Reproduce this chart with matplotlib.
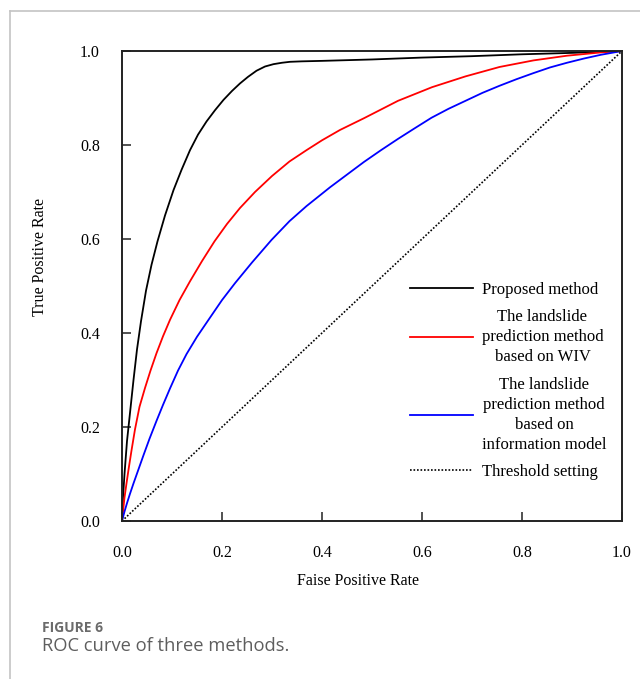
import matplotlib
matplotlib.use("Agg")
import matplotlib.pyplot as plt
from matplotlib.lines import Line2D

# values
proposed_fpr = [0.0, 0.002, 0.005, 0.010, 0.016, 0.023, 0.030, 0.038, 0.048, 0.059,
                0.071, 0.086, 0.103, 0.119, 0.136, 0.152, 0.169, 0.186, 0.203, 0.220,
                0.236, 0.252, 0.269, 0.286, 0.303, 0.320, 0.336, 0.360, 0.400, 0.500,
                0.600, 0.700, 0.800, 0.900, 1.0]
proposed_tpr = [0.0, 0.05, 0.10, 0.17, 0.23, 0.30, 0.365, 0.425, 0.49, 0.545,
                0.595, 0.65, 0.704, 0.747, 0.789, 0.822, 0.85, 0.874, 0.896, 0.915,
                0.931, 0.945, 0.958, 0.967, 0.972, 0.975, 0.977, 0.978, 0.979, 0.982,
                0.986, 0.989, 0.993, 0.996, 1.0]

wiv_fpr = [0.0, 0.002, 0.005, 0.009, 0.013, 0.019, 0.026, 0.035, 0.046, 0.057,
           0.069, 0.082, 0.096, 0.115, 0.136, 0.160, 0.185, 0.210, 0.236, 0.266,
           0.300, 0.335, 0.369, 0.400, 0.436, 0.484, 0.552, 0.620, 0.687, 0.755,
           0.823, 0.890, 0.958, 1.0]
wiv_tpr = [0.0, 0.02, 0.05, 0.08, 0.109, 0.15, 0.195, 0.243, 0.283, 0.32,
           0.357, 0.393, 0.428, 0.47, 0.51, 0.553, 0.595, 0.632, 0.666, 0.70,
           0.734, 0.765, 0.789, 0.81, 0.832, 0.857, 0.894, 0.923, 0.946, 0.966,
           0.98, 0.99, 0.997, 1.0]

info_fpr = [0.0, 0.005, 0.010, 0.016, 0.023, 0.032, 0.043, 0.055, 0.069, 0.082,
            0.096, 0.112, 0.129, 0.150, 0.173, 0.200, 0.226, 0.260, 0.299, 0.335,
            0.369, 0.416, 0.450, 0.484, 0.518, 0.552, 0.586, 0.619, 0.653, 0.687,
            0.721, 0.755, 0.789, 0.823, 0.856, 0.890, 0.924, 0.958, 1.0]
info_tpr = [0.0, 0.02, 0.038, 0.058, 0.08, 0.107, 0.14, 0.175, 0.213, 0.247,
            0.282, 0.32, 0.355, 0.392, 0.428, 0.47, 0.506, 0.55, 0.598, 0.638,
            0.67, 0.71, 0.737, 0.764, 0.789, 0.813, 0.836, 0.858, 0.877, 0.894,
            0.911, 0.926, 0.94, 0.953, 0.965, 0.975, 0.984, 0.992, 1.0]

threshold_fpr = [0.0, 1.0]
threshold_tpr = [0.0, 1.0]

labels = [
    "Proposed method",
    "The landslide\nprediction method\nbased on WIV",
    "The landslide\nprediction method\nbased on\ninformation model",
    "Threshold setting",
]
ticks = [0.0, 0.2, 0.4, 0.6, 0.8, 1.0]

serif = "Liberation Serif"

fig = plt.figure(figsize=(6.4, 6.79), dpi=100)
ax = fig.add_axes([122 / 640, 158 / 679, 500 / 640, 470 / 679])

ax.plot(proposed_fpr, proposed_tpr, color="black", lw=1.3, label=labels[0])
ax.plot(wiv_fpr, wiv_tpr, color="#ff0000", lw=1.3, label=labels[1])
ax.plot(info_fpr, info_tpr, color="#0000ff", lw=1.3, label=labels[2])
ax.plot(threshold_fpr, threshold_tpr, color="black", lw=1.2,
        linestyle=(0, (1.0, 1.1)), label=labels[3])

ax.set_xlim(0, 1)
ax.set_ylim(0, 1)
ax.set_xticks(ticks)
ax.set_yticks(ticks)
ax.set_xticklabels([f"{t:.1f}" for t in ticks], fontfamily=serif, fontsize=11.5)
ax.set_yticklabels([f"{t:.1f}" for t in ticks], fontfamily=serif, fontsize=11.5)
ax.tick_params(axis="x", direction="in", length=6.5, width=1.1, pad=17, color="#222222")
ax.tick_params(axis="y", direction="in", length=6.5, width=1.1, pad=16, color="#222222")
for spine in ax.spines.values():
    spine.set_linewidth(1.4)
    spine.set_color("#222222")

ax.set_xlabel("Faise Positive Rate", fontfamily=serif, fontsize=11.5)
ax.set_ylabel("True Positive Rate", fontfamily=serif, fontsize=11.5)
ax.xaxis.set_label_coords(0.472, -0.11)
ax.yaxis.set_label_coords(-0.148, 0.562)

leg = ax.legend(
    loc="center left",
    bbox_to_anchor=(0.576, 0.298),
    frameon=False,
    prop={"family": serif, "size": 12},
    handlelength=3.8,
    handletextpad=0.5,
    labelspacing=0.68,
    borderpad=0,
    borderaxespad=0,
)
for txt in leg.get_texts():
    txt.set_multialignment("center")
    txt.set_linespacing(1.34)

# page frame lines and caption
fig.add_artist(Line2D([9.5 / 640, 1.0], [1 - 11.3 / 679, 1 - 11.3 / 679],
                      color="#c4c4c4", lw=1.2, transform=fig.transFigure))
fig.add_artist(Line2D([9.5 / 640, 9.5 / 640], [0.0, 1 - 11.3 / 679],
                      color="#c4c4c4", lw=1.2, transform=fig.transFigure))
fig.text(42 / 640, 1 - 632 / 679, "FIGURE 6", fontfamily="Open Sans", fontweight="bold",
         fontsize=10, color="#6b6b6b", ha="left", va="baseline")
fig.text(42 / 640, 1 - 651 / 679, "ROC curve of three methods.", fontfamily="Open Sans",
         fontsize=13.2, color="#5e5e5e", ha="left", va="baseline")

fig.savefig("out.png", dpi=100)
